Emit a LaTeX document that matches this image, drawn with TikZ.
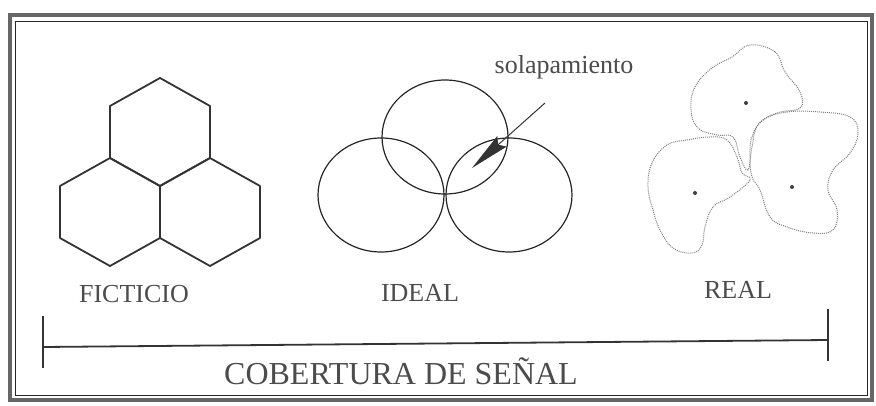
\documentclass[tikz,border=0pt]{standalone}
\usepackage{fontspec}
\setmainfont{Liberation Serif}
\usetikzlibrary{arrows.meta}

\begin{document}
\begin{tikzpicture}[x=1pt, y=-1pt,
    Label/.style={text=black!70, inner sep=0pt, font=\fontsize{26}{26}\selectfont},
    Hex/.style={draw=black!80, line width=1.8pt, line join=round},
    Cell/.style={draw=black!85, line width=1.2pt},
    Zone/.style={draw=black!50, line width=1pt, densely dotted},
    Site/.style={circle, fill=black!75, inner sep=0pt, minimum size=4pt},
    Bar/.style={draw=black!80, line width=1.8pt}]
        % \draw[help lines, gray] (0,0) grid (876,406);
        \useasboundingbox (0,0) rectangle (876,406);
        \fill[white] (0,0) rectangle (876,406);
        \draw[black!60, line width=4pt] (10,15) rectangle (872,400);
        \draw[black!85, line width=0.8pt] (15.5,21) rectangle (867.5,395);

        % FICTICIO
        \coordinate (HexT) at (160,132);
        \coordinate (HexL) at (110,212);
        \coordinate (HexR) at (210,212);
        \foreach \h in {HexT,HexL,HexR}
            \draw[Hex] (\h) ++(0,-54) -- ++(50,28) -- ++(0,52) -- ++(-50,28) -- ++(-50,-28) -- ++(0,-52) -- cycle;

        % IDEAL
        \coordinate (CirT) at (445,137);
        \coordinate (CirL) at (381,195);
        \coordinate (CirR) at (509,195);
        \foreach \c in {CirT,CirL,CirR}
            \draw[Cell] (\c) ellipse [x radius=63, y radius=57];
        \node[Label] (solap) at (564,67) {solapamiento};
        \coordinate (tail) at (545,103);
        \coordinate (tip) at (472,168);
        \draw[-{Stealth[length=40pt, width=14pt, inset=5pt]}, line width=1pt, black!80] (tail) -- (tip);

        % REAL
        \draw[Zone] plot[smooth cycle, tension=0.7] coordinates {(750,45) (775,52) (785,72) (800,92) (800,108) (777,113) (758,125) (752,147) (748,170) (740,157) (733,137) (717,135) (698,128) (691,110) (695,87) (712,68) (732,57)};
        \draw[Zone] plot[smooth cycle, tension=0.7] coordinates {(667,145) (687,140) (710,137) (727,140) (737,157) (742,173) (750,180) (730,197) (713,207) (705,227) (702,245) (692,253) (673,248) (660,230) (653,210) (648,187) (652,163)};
        \draw[Zone] plot[smooth cycle, tension=0.7] coordinates {(763,120) (787,112) (820,112) (850,117) (858,133) (850,153) (833,170) (828,190) (837,210) (833,230) (813,233) (787,227) (770,217) (760,190) (752,177) (750,157) (752,137)};
        \node[Site] (S1) at (746,103) {};
        \node[Site] (S2) at (695,193) {};
        \node[Site] (S3) at (792,187) {};

        \node[Label] (fict) at (134,294) {FICTICIO};
        \node[Label] (ideal) at (420,293) {IDEAL};
        \node[Label] (real) at (738,290) {REAL};

        % cobertura
        \coordinate (BarL) at (43,347);
        \coordinate (BarR) at (828,340);
        \draw[Bar] (BarL) -- (BarR);
        \draw[Bar] (BarL) ++(0,-31) -- ++(0,52);
        \draw[Bar] (BarR) ++(0,-31) -- ++(0,52);
        \node[Label, font=\fontsize{32}{32}\selectfont] (cob) at (401,371) {COBERTURA DE SEÑAL};

\end{tikzpicture}
\end{document}
